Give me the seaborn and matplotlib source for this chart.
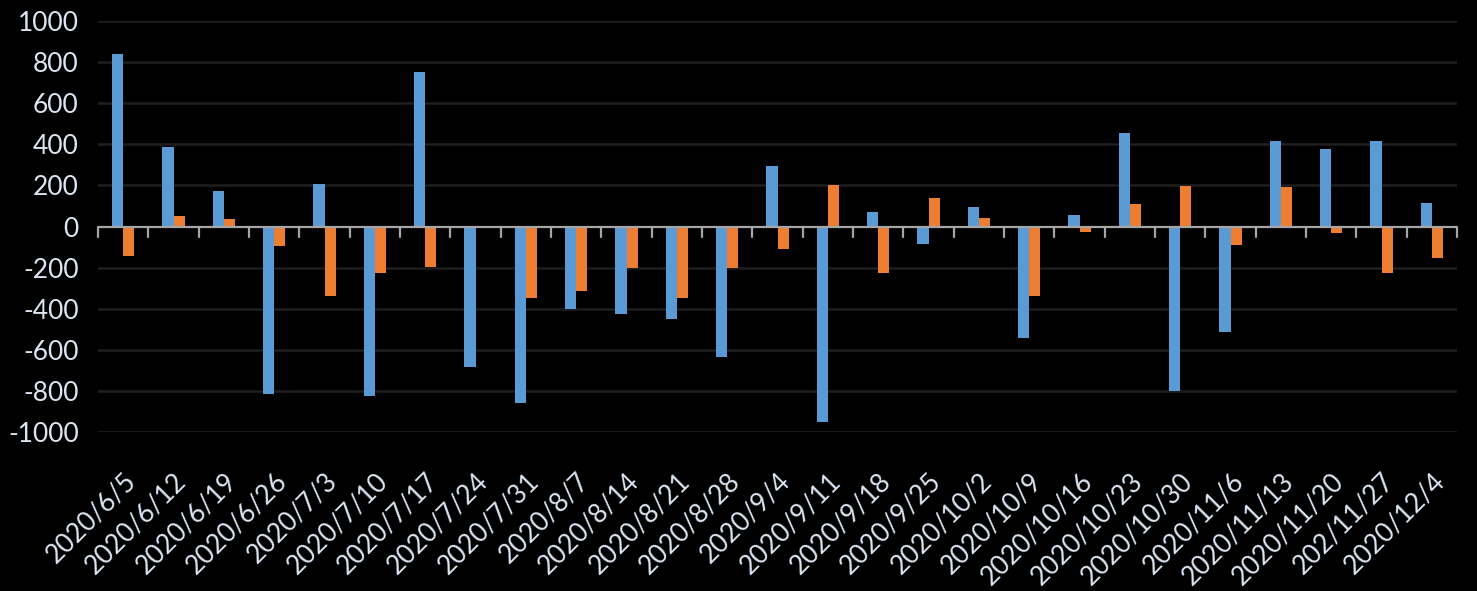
import pandas as pd
import numpy as np
import matplotlib.pyplot as plt
import seaborn as sns

# weekly values
dates = ['2020/6/5', '2020/6/12', '2020/6/19', '2020/6/26', '2020/7/3', '2020/7/10',
         '2020/7/17', '2020/7/24', '2020/7/31', '2020/8/7', '2020/8/14', '2020/8/21',
         '2020/8/28', '2020/9/4', '2020/9/11', '2020/9/18', '2020/9/25', '2020/10/2',
         '2020/10/9', '2020/10/16', '2020/10/23', '2020/10/30', '2020/11/6', '2020/11/13',
         '2020/11/20', '202/11/27', '2020/12/4']
blue_vals = [838, 387, 173, -813, 207, -827, 752, -683, -859, -402, -426, -450, -634, 296,
             -951, 72, -84, 96, -543, 57, 457, -800, -513, 418, 379, 418, 116]
orange_vals = [-142, 52, 37, -93, -337, -224, -195, 0, -346, -316, -200, -346, -200, -109,
               203, -226, 140, 42, -338, -26, 111, 199, -89, 194, -31, -226, -153]

df = pd.DataFrame({
    'date': dates * 2,
    'value': blue_vals + orange_vals,
    'series': ['A'] * len(dates) + ['B'] * len(dates),
})

sns.set_style('dark')
plt.rcParams['font.family'] = ['Lato', 'DejaVu Sans']
plt.rcParams['axes.unicode_minus'] = False

fig = plt.figure(figsize=(14.77, 5.91), dpi=100, facecolor='black')
ax = fig.add_axes([0.0664, 0.269, 0.9201, 0.6955])
ax.set_facecolor('black')

sns.barplot(data=df, x='date', y='value', hue='series', order=dates,
            palette={'A': '#5B9BD5', 'B': '#ED7D31'}, width=0.44,
            errorbar=None, legend=False, ax=ax, saturation=1, linewidth=0)

ax.set_ylim(-1000, 1000)
ax.set_xlim(-0.5, len(dates) - 0.5)
ax.set_yticks(np.arange(-1000, 1001, 200))
ax.grid(False)
for y in np.arange(-1000, 1001, 200):
    if y != 0:
        ax.axhline(y, color='#1F1F1F', lw=1.8, zorder=0)
ax.axhline(0, color='#A6A6A6', lw=1.6, zorder=3)
# category separator ticks below the zero line
for i in range(len(dates) + 1):
    ax.plot([i - 0.5, i - 0.5], [0, -50], color='#A6A6A6', lw=1.6, zorder=3,
            clip_on=False)

for s in ax.spines.values():
    s.set_visible(False)

ax.set_xlabel('')
ax.set_ylabel('')
ax.tick_params(axis='both', length=0, colors='#DCE6F2', labelsize=19)
ax.tick_params(axis='y', pad=14)
ax.set_xticks(range(len(dates)))
ax.set_xticklabels(dates, rotation=45, ha='right', rotation_mode='anchor')
ax.tick_params(axis='x', pad=26)

fig.savefig('out.png', facecolor='black')
